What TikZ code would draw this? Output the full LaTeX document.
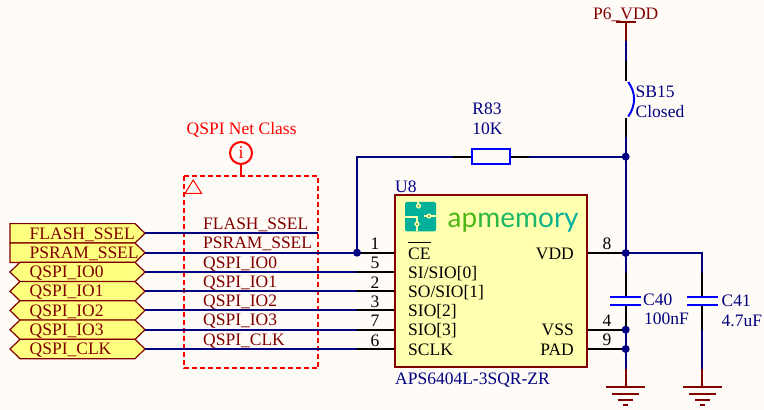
\documentclass[tikz,border=0pt]{standalone}
\usepackage{fontspec}
\setmainfont{Liberation Serif}
\newfontfamily\logofont{Lato}
\newcommand{\lblsize}{\fontsize{17.5}{18}\selectfont}
\definecolor{bgc}{HTML}{FFFCF8}
\definecolor{wire}{HTML}{000080}
\definecolor{brick}{HTML}{800000}
\definecolor{txtblue}{HTML}{000080}
\definecolor{compblue}{HTML}{0000FF}
\definecolor{portfill}{HTML}{FFFF80}
\definecolor{chipfill}{HTML}{FFFFB0}
\definecolor{netred}{HTML}{FF0000}
\definecolor{tealc}{HTML}{00B098}
\definecolor{lg1}{HTML}{4CB814}
\definecolor{lg2}{HTML}{2CB840}
\definecolor{lg3}{HTML}{1CB668}
\definecolor{lg4}{HTML}{10B484}
\definecolor{lg5}{HTML}{0CB296}
\definecolor{lg6}{HTML}{08B0A0}
\tikzset{
  x=1pt,y=-1pt,
  wirel/.style={draw=wire,line width=2pt},
  pinl/.style={draw=black,line width=2pt},
  powl/.style={draw=brick,line width=2pt},
  platel/.style={draw=compblue,line width=2pt},
  gndbar/.style={draw=brick,line width=2pt},
  dotn/.style={circle,fill=wire,draw=none,inner sep=0pt,minimum size=8pt},
  porttext/.style={font=\lblsize,text=brick,anchor=base west,inner sep=0pt},
  pintext/.style={font=\lblsize,text=black,inner sep=0pt},
  nametext/.style={font=\lblsize,text=txtblue,inner sep=0pt,anchor=base west},
  portbox/.style={draw=brick,fill=portfill,line width=1.2pt},
}
\newcommand{\inport}[3]{% y, name, text
  \draw[portbox] (10,#1-9.7) -- (135,#1-9.7) -- (145,#1) -- (135,#1+9.7) -- (10,#1+9.7) -- cycle;
  \node[porttext] (#2) at (29.5,#1+5.7) {#3};
  \coordinate (#2e) at (145,#1);}
\newcommand{\ioport}[3]{%
  \draw[portbox] (20,#1-9.7) -- (135,#1-9.7) -- (145,#1) -- (135,#1+9.7) -- (20,#1+9.7) -- (10,#1) -- cycle;
  \node[porttext] (#2) at (29.5,#1+5.7) {#3};
  \coordinate (#2e) at (145,#1);}
\begin{document}
\begin{tikzpicture}
\useasboundingbox[fill=bgc] (0,0) rectangle (764,410);
% ports
\inport{233.3}{pa}{FLASH\_SSEL}
\inport{252.7}{pb}{PSRAM\_SSEL}
\ioport{272}{pc}{QSPI\_IO0}
\ioport{291.2}{pd}{QSPI\_IO1}
\ioport{310.4}{pe}{QSPI\_IO2}
\ioport{329.7}{pf}{QSPI\_IO3}
\ioport{349}{pg}{QSPI\_CLK}
% net class
\node[font=\lblsize,text=netred,inner sep=0pt,anchor=base west] (nclass) at (186.5,134) {QSPI Net Class};
\node[circle,draw=netred,line width=2pt,minimum size=22pt,inner sep=0pt,font=\fontsize{18}{18}\selectfont,text=netred] (info) at (241,153) {i};
\coordinate (stem) at (241,176);
\draw[netred,line width=2pt] (info) -- (stem);
\draw[netred,line width=2pt,dash pattern=on 5pt off 3pt] (183.5,176) rectangle (318,368);
\draw[netred,line width=1pt] (185,193.3) -- (201.5,193.3) -- (193.2,180) -- cycle;
% labels in the class
\foreach \yy/\tt in {229.5/FLASH\_SSEL,248.7/PSRAM\_SSEL,268/QSPI\_IO0,287.2/QSPI\_IO1,306.5/QSPI\_IO2,325.7/QSPI\_IO3,345/QSPI\_CLK}
  \node[porttext] at (203,\yy) {\tt};
% chip
\node[draw=brick,fill=chipfill,line width=2pt,minimum width=192pt,minimum height=172pt,inner sep=0pt] (chip) at (491,281) {};
% logo
\node[fill=tealc,rounded corners=1.5pt,minimum width=31pt,minimum height=29.5pt,inner sep=0pt] (logo) at (420.5,216.5) {};
\draw[chipfill,line width=1.2pt] (418,202) -- (418,207) (405,217) -- (417,217) -- (417,231) (424,216) -- (436,216);
\fill[chipfill] (418.5,206) circle (2.6pt) (429,216) circle (2.6pt) (417,224) circle (2.6pt);
\fill[lg1!80!black] (418.5,206) circle (1pt) (429,216) circle (1pt) (417,224) circle (1pt);
\node[font=\logofont\fontsize{28}{28}\selectfont,inner sep=0pt,anchor=base west] (logotext) at (447.5,227) {\textcolor{lg1}{a}\textcolor{lg1}{p}\textcolor{lg2}{m}\textcolor{lg3}{e}\textcolor{lg3}{m}\textcolor{lg4}{o}\textcolor{lg5}{r}\textcolor{lg6}{y}};
% chip text
\node[nametext] (u8) at (395,192) {U8};
\node[nametext] (partn) at (395,384.5) {APS6404L-3SQR-ZR};
\node[pintext,anchor=base west] (ce) at (408,259) {CE};
\draw[black,line width=1.2pt] (408,242.7) -- (431,242.7);
\node[pintext,anchor=base west] (s0) at (408,278) {SI/SIO[0]};
\node[pintext,anchor=base west] (s1) at (408,297) {SO/SIO[1]};
\node[pintext,anchor=base west] (s2) at (408,316.5) {SIO[2]};
\node[pintext,anchor=base west] (s3) at (408,335.5) {SIO[3]};
\node[pintext,anchor=base west] (sc) at (408,355) {SCLK};
\node[pintext,anchor=base east] (vd) at (574,259) {VDD};
\node[pintext,anchor=base east] (vs) at (574,335.5) {VSS};
\node[pintext,anchor=base east] (pa2) at (574,355) {PAD};
% pin coordinates, left
\coordinate (c1) at (357,252.7); \coordinate (c5) at (357,272); \coordinate (c2) at (357,291.2);
\coordinate (c3) at (357,310.4); \coordinate (c7) at (357,329.7); \coordinate (c6) at (357,349);
\coordinate (b1) at (394,252.7); \coordinate (b5) at (394,272); \coordinate (b2) at (394,291.2);
\coordinate (b3) at (394,310.4); \coordinate (b7) at (394,329.7); \coordinate (b6) at (394,349);
\coordinate (fe) at (318,233.3);
\draw[wirel] (pae) -- (fe);
\draw[wirel] (pbe) -- (c1);
\draw[wirel] (pce) -- (c5);
\draw[wirel] (pde) -- (c2);
\draw[wirel] (pee) -- (c3);
\draw[wirel] (pfe) -- (c7);
\draw[wirel] (pge) -- (c6);
\foreach \a/\b in {c1/b1,c5/b5,c2/b2,c3/b3,c7/b7,c6/b6} \draw[pinl] (\a) -- (\b);
\foreach \xx/\yy/\tt in {375/244/1,375/263/5,375/282.5/2,375/301.5/3,375/321/7,375/340.5/6}
  \node[pintext] at (\xx,\yy) {\tt};
% right side
\coordinate (jtop) at (625.7,156.6);
\coordinate (jv) at (625.7,253);
\coordinate (jvss) at (625.7,329.7);
\coordinate (jpad) at (625.7,349);
\coordinate (rv) at (702.3,253);
\coordinate (v8) at (588,253); \coordinate (v4) at (588,329.7); \coordinate (v9) at (588,349);
\draw[pinl] (v8) -- (jv);
\draw[pinl] (v4) -- (jvss);
\draw[pinl] (v9) -- (jpad);
\node[pintext] (n8) at (607,243.5) {8};
\node[pintext] (n4) at (607,321) {4};
\node[pintext] (n9) at (607,340) {9};
% P6 VDD
\node[font=\lblsize,text=brick,inner sep=0pt,anchor=base west] (p6) at (593,19) {P6\_VDD};
\coordinate (p6t) at (625.7,22.3);
\coordinate (p6a) at (625.7,41);
\coordinate (p6b) at (625.7,61);
\coordinate (p6c) at (625.7,80.5);
\coordinate (p6d) at (625.7,118);
\coordinate (p6e) at (625.7,137);
\draw[powl] (616,22.3) -- (635.5,22.3);
\draw[powl] (p6t) -- (p6a);
\draw[wirel] (p6a) -- (p6b);
\draw[pinl] (p6b) -- (p6c);
\draw[compblue,line width=2pt] (628.3,82) .. controls (636,93) and (636,105) .. (628.3,116.5);
\draw[pinl] (p6d) -- (p6e);
\draw[wirel] (p6e) -- (jv);
\node[nametext] (sb) at (635.5,97.5) {SB15};
\node[nametext] (sbv) at (635.5,117) {Closed};
% R83
\node[draw=compblue,line width=2pt,fill=none,minimum width=38pt,minimum height=15pt,inner sep=0pt] (r83) at (491,156.6) {};
\coordinate (rl) at (453,156.6); \coordinate (rr) at (529,156.6);
\coordinate (rc) at (357,156.6);
\draw[wirel] (c1) -- (rc) -- (rl);
\draw[pinl] (rl) -- (r83.west);
\draw[pinl] (r83.east) -- (rr);
\draw[wirel] (rr) -- (jtop);
\node[nametext,anchor=base] (r1) at (487,114.5) {R83};
\node[nametext,anchor=base] (r2) at (487.5,134.5) {10K};
% C40
\coordinate (c40a) at (625.7,273); \coordinate (c40b) at (625.7,296.7);
\coordinate (c40c) at (625.7,305); \coordinate (c40g) at (625.7,369); \coordinate (g1) at (625.7,387);
\draw[wirel] (jv) -- (c40a);
\draw[pinl] (c40a) -- (c40b);
\draw[pinl] (c40c) -- (jvss);
\draw[wirel] (jvss) -- (c40g);
\draw[powl] (c40g) -- (g1);
\draw[platel] (610,296.7) -- (641,296.7) (610,305) -- (641,305);
\node[nametext] (c40n) at (643,305) {C40};
\node[nametext] (c40v) at (644,324.5) {100nF};
% C41
\coordinate (c41a) at (702.3,273); \coordinate (c41b) at (702.3,296.7);
\coordinate (c41c) at (702.3,305); \coordinate (c41d) at (702.3,330); \coordinate (c41g) at (702.3,369); \coordinate (g2) at (702.3,387);
\draw[wirel] (jv) -- (rv) -- (c41a);
\draw[pinl] (c41a) -- (c41b);
\draw[pinl] (c41c) -- (c41d);
\draw[wirel] (c41d) -- (c41g);
\draw[powl] (c41g) -- (g2);
\draw[platel] (687,296.7) -- (718,296.7) (687,305) -- (718,305);
\node[nametext] (c41n) at (721.5,306.5) {C41};
\node[nametext] (c41v) at (721.5,326) {4.7uF};
% grounds
\foreach \gx in {625.7,702.3}{
  \draw[gndbar] (\gx-19.5,387) -- (\gx+19.5,387);
  \draw[gndbar] (\gx-13.5,394) -- (\gx+13.5,394);
  \draw[gndbar] (\gx-7.5,399.5) -- (\gx+7.5,399.5);
  \draw[gndbar] (\gx-2.5,405) -- (\gx+2.5,405);
}
% junctions
\node[dotn] (d0) at (c1) {};
\node[dotn] (d1) at (jtop) {};
\node[dotn] (d2) at (jv) {};
\node[dotn] (d3) at (jvss) {};
\node[dotn] (d4) at (jpad) {};
\end{tikzpicture}
\end{document}
